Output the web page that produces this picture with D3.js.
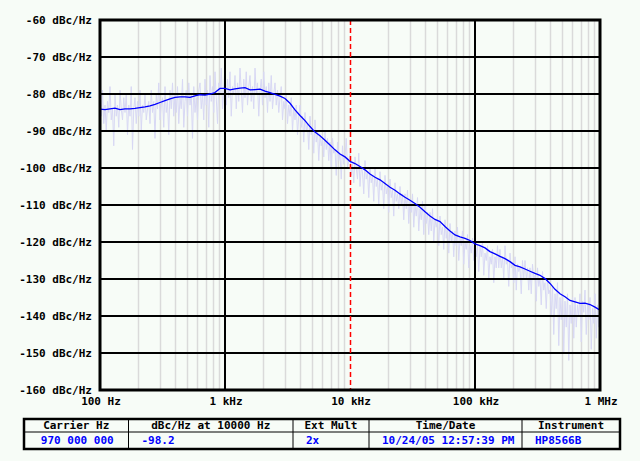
<!DOCTYPE html>
<html>
<head>
<meta charset="utf-8">
<script src="https://cdn.jsdelivr.net/npm/d3@7"></script>
<style>
  html, body { margin: 0; padding: 0; background: #f7fcf7; }
  svg { display: block; }
  text { font-family: "DejaVu Sans Mono", monospace; font-weight: bold; font-size: 11px; }
</style>
</head>
<body>
<svg id="chart" width="640" height="461"></svg>
<script>
// ---------------- DATA ----------------
const freqStart = 100, freqStop = 1e6;
const yTicks = [-60, -70, -80, -90, -100, -110, -120, -130, -140, -150, -160];
const xTicks = [100, 1000, 10000, 100000, 1000000];
const xTickLabels = ["100 Hz", "1 kHz", "10 kHz", "100 kHz", "1 MHz"];
const markerFreq = 10000;

// smoothed phase-noise trace (dBc/Hz), 25 points per decade from 100 Hz to 1 MHz
const smoothDbc = [
  -84.1, -84.2, -84.0, -83.8, -84.2, -84.0, -84.0, -83.9, -83.7, -83.5,
  -83.2, -82.8, -82.3, -81.8, -81.3, -80.9, -80.8, -80.8, -80.9, -80.5,
  -80.2, -80.3, -80.0, -79.6, -78.5, -78.5, -78.9, -78.6, -78.4, -78.3,
  -78.9, -78.8, -78.7, -79.2, -79.6, -80.1, -80.6, -81.2, -82.5, -84.3,
  -85.8, -87.2, -88.8, -90.3, -91.3, -92.5, -93.8, -95.1, -96.2, -97.0,
  -98.2, -98.8, -99.6, -100.5, -101.6, -102.5, -103.2, -104.2, -105.2, -106.0,
  -107.0, -107.9, -108.7, -109.6, -110.6, -111.8, -113.0, -113.9, -114.5, -115.8,
  -117.0, -118.1, -118.6, -119.0, -119.6, -120.5, -121.0, -121.6, -122.6, -123.2,
  -123.9, -124.5, -125.3, -126.3, -126.7, -127.3, -127.9, -128.5, -129.0, -129.9,
  -131.2, -132.8, -134.0, -134.8, -135.8, -136.2, -136.6, -136.5, -136.9, -137.6,
  -138.4
];

// raw (unsmoothed) trace (dBc/Hz), 100 points per decade from 100 Hz to 1 MHz
const rawDbc = [
  -81,-86,-79,-88,-83,-90,-82,-85,-78,-87,-84,-94,-80,-86,-83,-89,-79,-84,-87,-81,
  -85,-80,-91,-83,-86,-78,-95,-84,-81,-88,-82,-86,-79,-90,-83,-85,-80,-87,-84,-82,
  -88,-79,-85,-82,-92,-80,-84,-77,-87,-83,-81,-89,-78,-85,-82,-91,-79,-84,-77,-86,
  -80,-85,-78,-88,-81,-84,-76,-89,-82,-79,-86,-77,-83,-80,-92,-78,-85,-81,-87,-79,
  -77,-84,-80,-87,-76,-83,-79,-89,-75,-82,-78,-85,-74,-81,-88,-77,-80,-73,-84,-79,
  -72,-83,-76,-81,-74,-86,-78,-80,-75,-84,-77,-82,-73,-79,-85,-76,-81,-74,-83,-78,
  -75,-82,-78,-84,-73,-80,-77,-86,-79,-76,-83,-74,-81,-78,-85,-77,-82,-75,-84,-80,
  -77,-83,-79,-85,-81,-78,-87,-82,-84,-80,-88,-83,-86,-81,-90,-84,-87,-83,-91,-86,
  -83,-89,-86,-93,-85,-90,-88,-95,-86,-91,-89,-96,-87,-93,-90,-98,-91,-94,-92,-97,
  -90,-95,-92,-98,-93,-100,-92,-96,-95,-102,-93,-98,-96,-103,-94,-99,-97,-92,-100,-98,
  -96,-102,-99,-104,-97,-100,-103,-96,-105,-100,-101,-107,-98,-103,-101,-108,-100,-104,-102,-109,
  -100,-105,-103,-110,-101,-106,-104,-111,-102,-107,-105,-112,-103,-108,-106,-113,-104,-109,-107,-111,
  -105,-110,-107,-114,-107,-111,-106,-115,-109,-112,-107,-116,-110,-113,-108,-117,-111,-114,-109,-118,
  -110,-115,-112,-118,-112,-117,-111,-120,-114,-116,-114,-121,-113,-118,-116,-122,-114,-119,-116,-123,
  -115,-120,-117,-124,-117,-121,-116,-125,-119,-121,-117,-126,-120,-122,-118,-127,-121,-123,-119,-125,
  -119,-124,-121,-128,-121,-124,-120,-129,-123,-125,-121,-130,-124,-126,-122,-131,-124,-127,-121,-127,
  -122,-127,-124,-130,-121,-126,-125,-132,-123,-127,-126,-131,-124,-133,-126,-128,-127,-134,-125,-130,
  -125,-130,-127,-133,-127,-134,-126,-130,-129,-136,-127,-132,-130,-137,-128,-133,-131,-138,-130,-134,
  -133,-140,-132,-145,-134,-138,-131,-148,-135,-141,-133,-150,-136,-143,-134,-152,-137,-142,-135,-146,
  -135,-143,-137,-140,-134,-147,-136,-139,-133,-145,-137,-141,-135,-149,-138,-142,-134,-146,-137,-143,
  -139
];

const tableHeaders = ["Carrier Hz", "dBc/Hz at 10000 Hz", "Ext Mult", "Time/Date", "Instrument"];
const tableValues = ["970 000 000", "-98.2", "2x", "10/24/05 12:57:39 PM", "HP8566B"];

// ---------------- DRAW ----------------
const svg = d3.select("#chart");
const W = 640, H = 461;
const plot = { left: 100, right: 600, top: 20, bottom: 390 };

svg.append("rect").attr("width", W).attr("height", H).attr("fill", "#f7fcf7");

const x = d3.scaleLog().domain([freqStart, freqStop]).range([plot.left, plot.right]);
const y = d3.scaleLinear().domain([-160, -60]).range([plot.bottom, plot.top]);

function logGrid(n) {
  const decades = Math.log10(freqStop / freqStart);
  return d3.range(n).map(i => freqStart * Math.pow(10, decades * i / (n - 1)));
}
const smoothF = logGrid(smoothDbc.length);
const rawF = logGrid(rawDbc.length);

// minor vertical grid
const minor = [];
for (let d = 100; d < freqStop; d *= 10) for (let k = 2; k <= 9; k++) minor.push(d * k);
svg.append("g").selectAll("line").data(minor).join("line")
  .attr("x1", d => Math.round(x(d)) + 0.5).attr("x2", d => Math.round(x(d)) + 0.5)
  .attr("y1", plot.top).attr("y2", plot.bottom)
  .attr("stroke", "#dadada").attr("stroke-width", 1.5);

// raw trace
svg.append("path")
  .datum(rawDbc.map((v, i) => [rawF[i], v]))
  .attr("fill", "none").attr("stroke", "#d8d8f4").attr("stroke-width", 1)
  .attr("d", d3.line().x(d => x(d[0])).y(d => y(d[1])));

// major grid (the 10 kHz decade is replaced by the marker line)
svg.append("g").selectAll("line").data(yTicks).join("line")
  .attr("x1", plot.left).attr("x2", plot.right)
  .attr("y1", d => y(d)).attr("y2", d => y(d))
  .attr("stroke", "#000").attr("stroke-width", 2);
svg.append("g").selectAll("line").data(xTicks.filter(d => d !== markerFreq)).join("line")
  .attr("x1", d => x(d)).attr("x2", d => x(d))
  .attr("y1", plot.top).attr("y2", plot.bottom)
  .attr("stroke", "#000").attr("stroke-width", 2);

// smoothed trace
svg.append("path")
  .datum(smoothDbc.map((v, i) => [smoothF[i], v]))
  .attr("fill", "none").attr("stroke", "#0000ff").attr("stroke-width", 1.3)
  .attr("d", d3.line().x(d => x(d[0])).y(d => y(d[1])));

// marker line
svg.append("line")
  .attr("x1", Math.round(x(markerFreq)) + 0.5).attr("x2", Math.round(x(markerFreq)) + 0.5)
  .attr("y1", plot.top).attr("y2", plot.bottom)
  .attr("stroke", "#ff0000").attr("stroke-width", 1.5).attr("stroke-dasharray", "5,3");

// border
svg.append("rect")
  .attr("x", plot.left).attr("y", plot.top)
  .attr("width", plot.right - plot.left).attr("height", plot.bottom - plot.top)
  .attr("fill", "none").attr("stroke", "#000").attr("stroke-width", 3);

// y labels
svg.append("g").selectAll("text").data(yTicks).join("text")
  .attr("x", 92).attr("y", d => y(d) + 4)
  .attr("text-anchor", "end").attr("fill", "#000")
  .text(d => `${d} dBc/Hz`);

// x labels
svg.append("g").selectAll("text").data(xTicks).join("text")
  .attr("x", d => x(d) + 1).attr("y", 405)
  .attr("text-anchor", "middle").attr("fill", "#000")
  .text((d, i) => xTickLabels[i]);

// table
const tbl = { left: 24, right: 620, top: 419, mid: 432, bottom: 449 };
const colEdges = [tbl.left, 128.5, 293, 369, 522, tbl.right];
const tg = svg.append("g");
tg.append("rect").attr("x", tbl.left).attr("y", tbl.top)
  .attr("width", tbl.right - tbl.left).attr("height", tbl.bottom - tbl.top)
  .attr("fill", "none").attr("stroke", "#000").attr("stroke-width", 2.5);
tg.append("line").attr("x1", tbl.left).attr("x2", tbl.right)
  .attr("y1", tbl.mid).attr("y2", tbl.mid).attr("stroke", "#000").attr("stroke-width", 1);
tg.selectAll("line.sep").data(colEdges.slice(1, -1)).join("line").attr("class", "sep")
  .attr("x1", d => d).attr("x2", d => d).attr("y1", tbl.top).attr("y2", tbl.bottom)
  .attr("stroke", "#000").attr("stroke-width", 1);
tg.selectAll("text.h").data(tableHeaders).join("text").attr("class", "h")
  .attr("x", (d, i) => (colEdges[i] + colEdges[i + 1]) / 2).attr("y", 429)
  .attr("text-anchor", "middle").attr("fill", "#000").text(d => d);
tg.selectAll("text.v").data(tableValues).join("text").attr("class", "v")
  .attr("x", (d, i) => i === 0 ? (colEdges[0] + colEdges[1]) / 2 + 1 : colEdges[i] + 13)
  .attr("y", 444)
  .attr("text-anchor", (d, i) => i === 0 ? "middle" : "start")
  .attr("fill", "#0000ff").text(d => d);
</script>
</body>
</html>
